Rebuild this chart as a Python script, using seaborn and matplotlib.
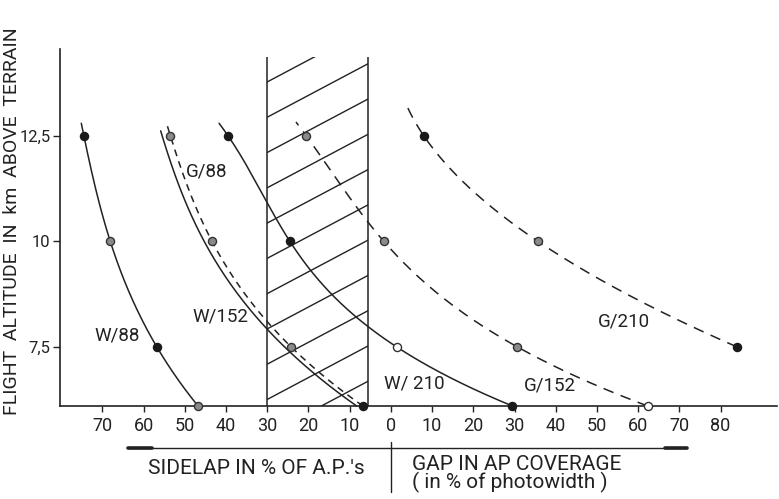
import numpy as np
import matplotlib
matplotlib.use("Agg")
import matplotlib.pyplot as plt
import seaborn as sns
from matplotlib.lines import Line2D
from matplotlib.patches import Rectangle

# ---------------- data ----------------
alt_levels = [12.5, 10.0, 7.5, 6.1]          # km above terrain
w88_x = [-74.5, -68.1, -56.8, -46.8]          # negative = sidelap %, positive = gap %
w152_x = [-55.5, -45.3, -25.8, -8.3]
g88_x = [-53.5, -43.4, -24.2, -6.8]
w210_x = [-39.5, -24.5, 1.4, 29.5]
g152_x = [-20.5, -1.7, 30.7, 62.3]
g210_alt = [12.5, 10.0, 7.5]
g210_x = [8.0, 35.7, 84.0]

w88_fill = ["k", "g", "k", "g"]
g88_fill = ["g", "g", "g", "k"]
w210_fill = ["k", "k", "o", "k"]
g152_fill = ["g", "g", "g", "o"]
g210_fill = ["k", "g", "k"]

curve_tops = {"W/88": 12.8, "W/152": 12.62, "G/88": 12.74,
              "W/210": 12.8, "G/152": 12.83, "G/210": 13.23}

sidelap_ticks = [70, 60, 50, 40, 30, 20, 10]
gap_ticks = [0, 10, 20, 30, 40, 50, 60, 70, 80]
alt_ticks = [7.5, 10.0, 12.5]
alt_tick_labels = ["7,5", "10", "12,5"]

band = (-30.0, -5.5)      # shaded region (sidelap 30 % .. 5.5 %)

# ---------------- style ----------------
sns.set_theme(style="ticks")
plt.rcParams["font.family"] = ["Roboto", "DejaVu Sans"]
INK = "#222222"

W, H = 779, 499
fig = plt.figure(figsize=(W / 100, H / 100), dpi=100)
ax = fig.add_axes([60 / W, 1 - 406 / H, (777 - 60) / W, (406 - 49) / H])
ax.set_xlim(-80.3, 93.7)
ax.set_ylim(6.1, 14.56)

def smooth(xs, ys, top):
    coef = np.polyfit(ys, xs, len(xs) - 1)
    yy = np.linspace(min(ys), top, 200)
    return np.polyval(coef, yy), yy

series = [
    ("W/88", w88_x, alt_levels, "-"),
    ("W/152", w152_x, alt_levels, "-"),
    ("G/88", g88_x, alt_levels, (0, (4.5, 3.5))),
    ("W/210", w210_x, alt_levels, "-"),
    ("G/152", g152_x, alt_levels, (0, (7, 5))),
    ("G/210", g210_x, g210_alt, (0, (7, 5))),
]
for name, xs, ys, ls in series:
    cx, cy = smooth(xs, ys, curve_tops[name])
    sns.lineplot(x=cx, y=cy, sort=False, estimator=None, ax=ax,
                 color=INK, linewidth=1.1, linestyle=ls, clip_on=False)

fills = {"k": ("#1a1a1a", "#1a1a1a"), "g": ("#8a8a8a", "#333333"), "o": ("white", "#333333")}
marker_sets = [(w88_x, alt_levels, w88_fill), (g88_x, alt_levels, g88_fill),
               (w210_x, alt_levels, w210_fill), (g152_x, alt_levels, g152_fill),
               (g210_x, g210_alt, g210_fill)]
for xs, ys, fl in marker_sets:
    for kind in ("k", "g", "o"):
        px = [x for x, f in zip(xs, fl) if f == kind]
        py = [y for y, f in zip(ys, fl) if f == kind]
        if px:
            fc, ec = fills[kind]
            sns.scatterplot(x=px, y=py, ax=ax, color=fc, edgecolor=ec,
                            linewidth=1.0, s=34, zorder=6, clip_on=False)

# hatched band
hatch_top = 14.37
ax.vlines(list(band), 6.1, hatch_top, colors=INK, linewidth=1.1, clip_on=False)
clip = Rectangle((band[0], 6.1), band[1] - band[0], hatch_top - 6.1,
                 transform=ax.transData, fill=False, edgecolor="none")
ax.add_patch(clip)
slope = 0.0518
for k in range(-2, 14):
    y0 = 13.78 - 0.836 * k
    ln, = ax.plot([band[0], band[1]], [y0, y0 + slope * (band[1] - band[0])],
                  color=INK, linewidth=1.0, clip_on=True)
    ln.set_clip_path(clip)

# curve labels
labels = [("G/88", -44.8, 11.65), ("W/152", -41.4, 8.23), ("W/88", -66.4, 7.78),
          ("G/210", 56.5, 8.10), ("W/ 210", 5.6, 6.64), ("G/152", 38.6, 6.58)]
for t, x, y in labels:
    ax.text(x, y, t, fontsize=13.5, color=INK, ha="center", va="center")

# axes
xt = [-v for v in sidelap_ticks] + gap_ticks
ax.set_xticks(xt)
ax.set_xticklabels([str(v) for v in sidelap_ticks + gap_ticks])
ax.set_yticks(alt_ticks)
ax.set_yticklabels(alt_tick_labels)
ax.tick_params(axis="x", direction="out", length=4, width=1, labelsize=13, pad=4, colors=INK)
ax.tick_params(axis="y", direction="out", length=5, width=1, labelsize=12, pad=2, colors=INK)
for s in ("top", "right"):
    ax.spines[s].set_visible(False)
for s in ("left", "bottom"):
    ax.spines[s].set_linewidth(1.2)
    ax.spines[s].set_color(INK)
ax.set_xlabel("")
ax.set_ylabel("")

# y label
fig.text(12 / W, 1 - 221 / H, "FLIGHT  ALTITUDE  IN  km  ABOVE  TERRAIN", rotation=90,
         ha="center", va="center", fontsize=14, color=INK)

def fx(p): return p / W
def fy(p): return 1 - p / H

fig.add_artist(Line2D([fx(128), fx(687)], [fy(448), fy(448)], color=INK, lw=1.0))
fig.add_artist(Line2D([fx(128), fx(152)], [fy(448), fy(448)], color=INK, lw=2.6))
fig.add_artist(Line2D([fx(665), fx(687)], [fy(448), fy(448)], color=INK, lw=2.6))
fig.add_artist(Line2D([fx(391), fx(391)], [fy(442), fy(492)], color=INK, lw=1.0))
fig.text(fx(256), fy(469), "SIDELAP IN % OF A.P.'s", ha="center", va="center", fontsize=15, color=INK)
fig.text(fx(412), fy(464), "GAP IN AP COVERAGE", ha="left", va="center", fontsize=15, color=INK)
fig.text(fx(412), fy(482), "( in % of photowidth )", ha="left", va="center", fontsize=15, color=INK)

fig.savefig("out.png", dpi=100, facecolor="white")
